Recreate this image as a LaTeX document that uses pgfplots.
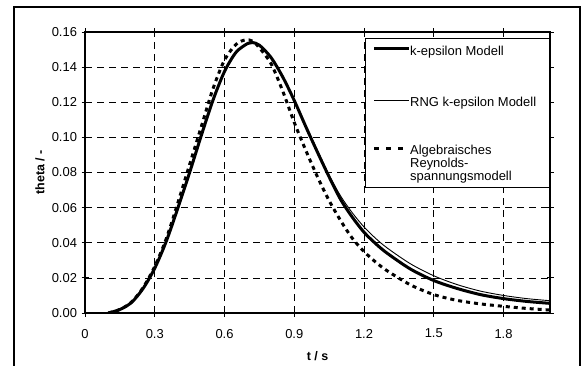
\documentclass[border=0pt]{standalone}
\usepackage{fontspec}
\setmainfont{Liberation Sans}
\usepackage{pgfplots}
\usepackage{pgfplotstable}
\pgfplotsset{compat=1.18}
\pgfplotstableread{
t th
0.10 0.0000
0.15 0.0020
0.20 0.0060
0.25 0.0140
0.30 0.0255
0.35 0.0410
0.40 0.0600
0.45 0.0800
0.50 0.1010
0.55 0.1210
0.60 0.1375
0.65 0.1485
0.70 0.1535
0.72 0.1540
0.75 0.1525
0.80 0.1455
0.85 0.1345
0.90 0.1210
0.95 0.1060
1.00 0.0915
1.05 0.0775
1.10 0.0645
1.15 0.0545
1.20 0.0460
1.25 0.0395
1.30 0.0340
1.40 0.0250
1.50 0.0185
1.60 0.0140
1.70 0.0105
1.80 0.0082
1.90 0.0066
2.00 0.0055
}\kepsilon
\pgfplotstableread{
t th
0.10 0.0000
0.15 0.0020
0.20 0.0060
0.25 0.0140
0.30 0.0255
0.35 0.0410
0.40 0.0600
0.45 0.0800
0.50 0.1010
0.55 0.1210
0.60 0.1375
0.65 0.1485
0.70 0.1535
0.72 0.1540
0.75 0.1525
0.80 0.1455
0.85 0.1345
0.90 0.1212
0.95 0.1065
1.00 0.0925
1.05 0.0785
1.10 0.0665
1.15 0.0570
1.20 0.0490
1.25 0.0425
1.30 0.0370
1.40 0.0280
1.50 0.0212
1.60 0.0162
1.70 0.0125
1.80 0.0100
1.90 0.0082
2.00 0.0070
}\rng
\pgfplotstableread{
t th
0.10 0.0000
0.15 0.0020
0.20 0.0062
0.25 0.0145
0.30 0.0265
0.35 0.0425
0.40 0.0630
0.45 0.0845
0.50 0.1060
0.55 0.1275
0.60 0.1440
0.65 0.1530
0.69 0.1555
0.72 0.1548
0.75 0.1510
0.80 0.1420
0.85 0.1265
0.90 0.1085
0.95 0.0925
1.00 0.0775
1.05 0.0640
1.10 0.0525
1.15 0.0425
1.20 0.0350
1.25 0.0290
1.30 0.0240
1.40 0.0160
1.50 0.0105
1.60 0.0072
1.70 0.0052
1.80 0.0038
1.90 0.0026
2.00 0.0017
}\asm
\begin{document}
\begin{tikzpicture}[x=1bp,y=1bp]
\useasboundingbox (0,0) rectangle (586,365);
\draw[line width=1.2bp] (14,-5) -- (14,358) -- (580,358) -- (580,-5);
\begin{axis}[
  at={(85bp,52bp)}, anchor=south west,
  scale only axis, width=465bp, height=281bp,
  xmin=0, xmax=2, ymin=0, ymax=0.16,
  xtick={0,0.3,0.6,0.9,1.2,1.5,1.8},
  xticklabels={0,0.3,0.6,0.9,1.2,1.5,1.8},
  ytick={0,0.02,0.04,0.06,0.08,0.10,0.12,0.14,0.16},
  yticklabels={0.00,0.02,0.04,0.06,0.08,0.10,0.12,0.14,0.16},
  grid=major,
  major grid style={black, line width=0.7bp, dash pattern=on 7bp off 5bp},
  tick align=center, major tick length=7bp,
  tick style={black, line width=0.8bp},
  axis line style={line width=1.1bp},
  ticklabel style={font=\fontsize{13}{14}\selectfont},
  xticklabel style={yshift=-9bp},
  yticklabel style={xshift=-1bp},
  xlabel={t / s}, ylabel={theta / -},
  label style={font=\fontsize{12.5}{14}\selectfont\bfseries},
  xlabel style={at={(axis description cs:0.5,0)}, anchor=center, yshift=-43bp},
  ylabel style={at={(axis description cs:0,0.5)}, anchor=center, yshift=45bp},
]
\addplot[black, line width=3bp, smooth] table[x=t,y=th] {\kepsilon};
\addplot[black, line width=0.9bp, smooth] table[x=t,y=th] {\rng};
\addplot[black, line width=3bp, dash pattern=on 4bp off 4bp, smooth] table[x=t,y=th] {\asm};
\end{axis}
% legend
\draw[line width=0.8bp, fill=white] (365,178) rectangle (549,327);
\draw[black, line width=3bp] (374,316.5) -- (409,316.5);
\draw[black, line width=0.9bp] (374,265) -- (409,265);
\draw[black, line width=3bp, dash pattern=on 5bp off 7bp] (374,217) -- (410,217);
\begin{scope}[every node/.style={anchor=base west, inner sep=0pt, font=\fontsize{13}{14}\selectfont}]
\node at (410,310) {k-epsilon Modell};
\node at (410,259) {RNG k-epsilon Modell};
\node at (410,211) {Algebraisches};
\node at (410,198) {Reynolds-};
\node at (410,185) {spannungsmodell};
\end{scope}
\end{tikzpicture}
\end{document}
